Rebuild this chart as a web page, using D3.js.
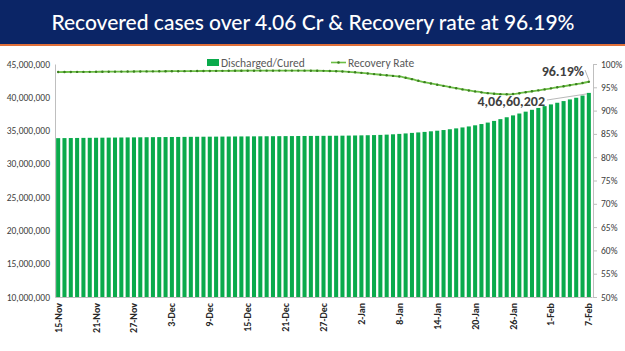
<!DOCTYPE html>
<html><head><meta charset="utf-8">
<script src="https://cdn.jsdelivr.net/npm/d3@7"></script>
<style>html,body{margin:0;padding:0;background:#fff;overflow:hidden}</style>
</head><body><svg id="c" width="625" height="351"></svg>
<script>
const titleText = "Recovered cases over 4.06 Cr & Recovery rate at 96.19%";
const startDate = "2021-11-15";
const tickLabels = ["15-Nov","21-Nov","27-Nov","3-Dec","9-Dec","15-Dec","21-Dec","27-Dec","2-Jan","8-Jan","14-Jan","20-Jan","26-Jan","1-Feb","7-Feb"];
const leftTicks = [10000000,15000000,20000000,25000000,30000000,35000000,40000000,45000000];
const rightTicks = [50,55,60,65,70,75,80,85,90,95,100];
const recovered = [
 33861756,33871000,33881000,33891000,33901000,33911000,33921000,33931000,33941000,33951000,33961000,33971000,33981000,33991000,34001000,34011000,
 34020000,34028000,34036000,34044000,34052000,34060000,34068000,34076000,34083000,34090000,34097000,34104000,34111000,34118000,34125000,34132000,34139000,34146000,34153000,34160000,34167000,34174000,34181000,34188000,34195000,34202000,34209000,34216000,34224000,34234000,34246000,
 34261000,34280000,34300000,34322000,34350000,34390000,34440000,34500000,34570000,34650000,34720000,34800000,34890000,34980000,35080000,35200000,35330000,35470000,35620000,35790000,35980000,36200000,36450000,36720000,37000000,37280000,37560000,37840000,38120000,38400000,38670000,
 38930000,39180000,39430000,39680000,39930000,40260000,40660202];
const recoveryRate = [
 98.27,98.28,98.29,98.30,98.31,98.32,98.33,98.34,98.35,98.36,98.37,98.38,98.39,98.40,98.41,98.42,
 98.43,98.44,98.45,98.46,98.47,98.48,98.49,98.50,98.51,98.52,98.53,98.54,98.55,98.55,98.56,98.56,98.57,98.57,98.57,98.58,98.58,98.58,98.58,98.57,98.56,98.55,98.53,98.50,98.46,98.40,98.32,
 98.22,98.10,97.97,97.83,97.70,97.57,97.45,97.33,97.05,96.75,96.42,96.10,95.82,95.55,95.30,95.05,94.80,94.55,94.32,94.12,93.92,93.75,93.62,93.53,93.50,93.55,93.72,93.95,94.15,94.35,94.55,
 94.78,95.00,95.22,95.45,95.68,95.92,96.19];
const seriesNames = ["Discharged/Cured","Recovery Rate"];
const lastRecoveredLabel = "4,06,60,202";
const lastRateLabel = "96.19%";

const fmtDay = d3.timeFormat("%-d-%b");
const d0 = d3.timeParse("%Y-%m-%d")(startDate);
const categories = d3.timeDay.range(d0, d3.timeDay.offset(d0, recovered.length)).map(fmtDay);

const svg = d3.select("#c");
// Title band
svg.append("rect").attr("x",0).attr("y",0).attr("width",625).attr("height",44).attr("fill","#0b2566");
svg.append("rect").attr("x",0).attr("y",44).attr("width",625).attr("height",2).attr("fill","#e0703a");
svg.append("text").attr("x",313).attr("y",30).attr("text-anchor","middle")
  .attr("font-family","Lato, 'Open Sans', sans-serif").attr("font-size",21).attr("font-weight",500)
  .attr("fill","#fff").text(titleText);

const L = 55, R = 592, T = 64, B = 297;
const x = d3.scaleBand().domain(categories).range([L, R]).paddingInner(0.36).paddingOuter(0.18);
const yL = d3.scaleLinear().domain([10000000,45000000]).range([B, T]);
const yR = d3.scaleLinear().domain([50,100]).range([B, T]);

const font = "Carlito, Lato, 'Liberation Sans', sans-serif";

// bars
svg.append("g").selectAll("rect").data(recovered).join("rect")
  .attr("x",(d,i)=>x(categories[i])).attr("width",x.bandwidth())
  .attr("y",d=>yL(d)).attr("height",d=>B - yL(d)).attr("fill","#0aaa4c");

// left axis
const gL = svg.append("g").attr("transform",`translate(${L},0)`)
  .call(d3.axisLeft(yL).tickValues(leftTicks).tickFormat(d3.format(",")).tickSize(0).tickPadding(5));
gL.select(".domain").attr("stroke","#bfbfbf");
gL.selectAll("text").attr("font-family",font).attr("font-size",9.5).attr("fill","#404040");

// right axis
const gR = svg.append("g").attr("transform",`translate(${R+1},0)`)
  .call(d3.axisRight(yR).tickValues(rightTicks).tickFormat(d=>d+"%").tickSize(4).tickPadding(4));
gR.select(".domain").attr("stroke","#bfbfbf");
gR.selectAll("line").attr("stroke","#bfbfbf");
gR.selectAll("text").attr("font-family",font).attr("font-size",9.5).attr("fill","#404040");

// x axis
const gX = svg.append("g").attr("transform",`translate(0,${B})`)
  .call(d3.axisBottom(x).tickValues(tickLabels).tickSize(0).tickPadding(0));
gX.select(".domain").attr("stroke","#bfbfbf");
gX.selectAll("text").attr("font-family",font).attr("font-size",10).attr("font-weight","bold").attr("fill","#262626")
  .attr("text-anchor","end").attr("dy",null).attr("transform","translate(3.5,6) rotate(-90)").attr("y",0).attr("x",0);

// line
const line = d3.line().x((d,i)=>x(categories[i])+x.bandwidth()/2).y(d=>yR(d)).curve(d3.curveMonotoneX);
svg.append("path").datum(recoveryRate).attr("d",line).attr("fill","none").attr("stroke","#6cbf45").attr("stroke-width",1.8);
svg.append("g").selectAll("circle").data(recoveryRate).join("circle")
  .attr("cx",(d,i)=>x(categories[i])+x.bandwidth()/2).attr("cy",d=>yR(d)).attr("r",1.2).attr("fill","#3b7d1f");

// legend
const lg = svg.append("g").attr("font-family",font).attr("font-size",11.5).attr("fill","#595959");
lg.append("rect").attr("x",207).attr("y",59).attr("width",12).attr("height",7).attr("fill","#0aaa4c");
lg.append("text").attr("x",221).attr("y",67).text(seriesNames[0]);
lg.append("line").attr("x1",331).attr("x2",346).attr("y1",62.5).attr("y2",62.5).attr("stroke","#6cbf45").attr("stroke-width",1.6);
lg.append("circle").attr("cx",338.5).attr("cy",62.5).attr("r",1.3).attr("fill","#3b7d1f");
lg.append("text").attr("x",348).attr("y",67).text(seriesNames[1]);

// annotations
const n = recovered.length - 1;
const lx = x(categories[n]) + x.bandwidth()/2;
svg.append("line").attr("x1",585).attr("y1",70).attr("x2",lx).attr("y2",yR(recoveryRate[n])-2).attr("stroke","#a6a6a6").attr("stroke-width",0.8);
svg.append("text").attr("x",584).attr("y",76).attr("text-anchor","end").attr("font-family",font)
  .attr("font-size",14).attr("font-weight","bold").attr("fill","#404040").text(lastRateLabel);
svg.append("line").attr("x1",547).attr("y1",100).attr("x2",lx-2).attr("y2",yL(recovered[n])+1).attr("stroke","#a6a6a6").attr("stroke-width",0.8);
svg.append("text").attr("x",545).attr("y",106).attr("text-anchor","end").attr("font-family",font)
  .attr("font-size",14).attr("font-weight","bold").attr("fill","#404040").text(lastRecoveredLabel);
</script></body></html>
